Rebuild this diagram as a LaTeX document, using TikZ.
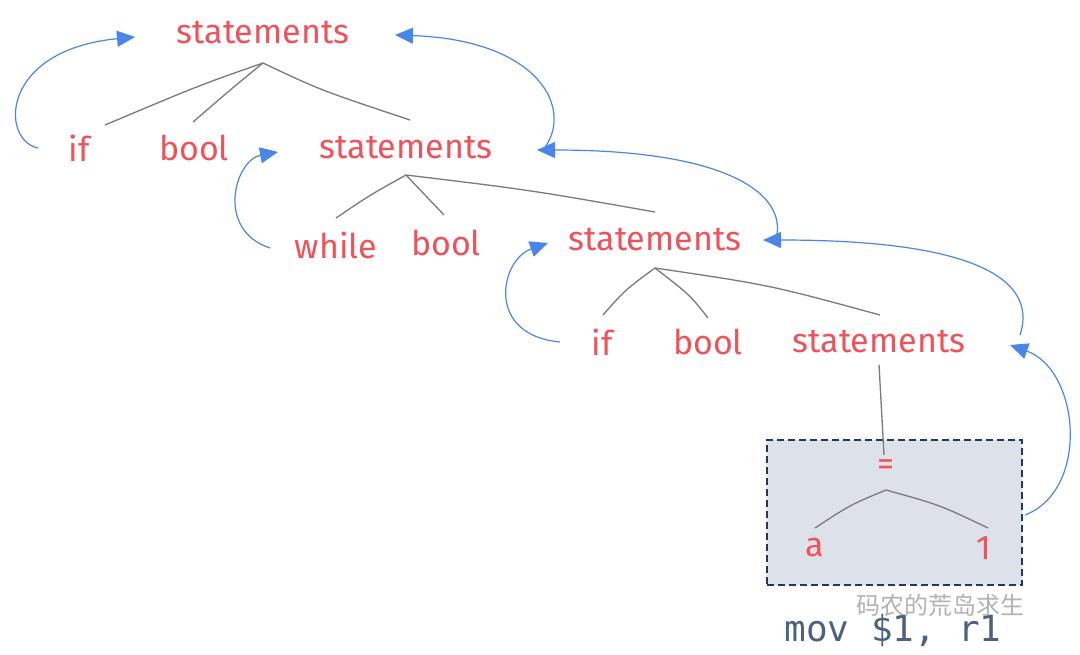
\documentclass[tikz,border=0pt]{standalone}
\usepackage{fontspec}
\setmainfont{Fira Sans}
\setmonofont{DejaVu Sans Mono}
\newfontfamily\cjk{Noto Sans CJK SC}
\usetikzlibrary{arrows.meta}
\definecolor{tred}{HTML}{F0525A}
\definecolor{tblue}{HTML}{4A86E8}
\definecolor{tgray}{HTML}{7A7A7A}
\definecolor{boxfill}{HTML}{DDE1EA}
\definecolor{boxline}{HTML}{1E3A5F}
\begin{document}
\begin{tikzpicture}[x=1pt,y=-1pt,
  lbl/.style={text=tred,font=\fontsize{34}{36}\selectfont,inner sep=1pt},
  br/.style={draw=tgray,line width=1.3pt},
  arr/.style={draw=tblue,line width=1.2pt,-{Triangle[length=18pt,width=16pt]}}]
\useasboundingbox (0,0) rectangle (1080,654);
\fill[white] (0,0) rectangle (1080,654);
\node[draw=boxline,fill=boxfill,dash pattern=on 7pt off 4pt,line width=1.5pt,minimum width=255pt,minimum height=145pt,inner sep=0pt] (box) at (894.5,512.5) {};
\node[lbl] (s1) at (263,33) {statements};
\node[lbl] (if1) at (79,148) {if};
\node[lbl] (b1) at (194,148) {bool};
\node[lbl] (s2) at (406,148) {statements};
\node[lbl] (wh) at (336,245) {while};
\node[lbl] (b2) at (446,243) {bool};
\node[lbl] (s3) at (655,240) {statements};
\node[lbl] (if2) at (602,342) {if};
\node[lbl] (b3) at (708,342) {bool};
\node[lbl] (s4) at (879,342) {statements};
\node[lbl] (eq) at (886,468) {=};
\node[lbl] (a) at (815,548) {a};
\node[lbl] (one) at (984,548) {1};
\node[text=boxline!80,font=\ttfamily\fontsize{36}{36}\selectfont] (mov) at (893,630) {mov \$1, r1};
\node[text=gray!60,font=\cjk\fontsize{24}{24}\selectfont] (wm) at (940,605) {码农的荒岛求生};
\coordinate (e1) at (38,148);
\coordinate (e2) at (543,150);
\coordinate (e3) at (270,248);
\coordinate (e4) at (775,242);
\coordinate (e5) at (560,342);
\coordinate (e6) at (1020,335);
\coordinate (e7) at (1025,515);
\coordinate (p1) at (263,63);
\draw[br] (p1) .. controls (200,85) .. (105,125);
\draw[br] (p1) .. controls (230,90) .. (193,122);
\draw[br] (p1) .. controls (320,90) .. (410,120);
\coordinate (p2) at (406,175);
\draw[br] (p2) .. controls (370,195) .. (336,218);
\draw[br] (p2) .. controls (425,195) .. (444,215);
\draw[br] (p2) .. controls (530,190) .. (655,212);
\coordinate (p3) at (655,268);
\draw[br] (p3) .. controls (625,290) .. (603,315);
\draw[br] (p3) .. controls (690,295) .. (708,318);
\draw[br] (p3) .. controls (770,285) .. (880,315);
\draw[br] (s4.south) ++(0,10) -- (884,455);
\coordinate (p4) at (886,490);
\draw[br] (p4) .. controls (850,505) .. (815,528);
\draw[br] (p4) .. controls (940,505) .. (988,528);
\draw[arr] (e1) .. controls (0,140) and (0,50) .. (135,37);
\draw[arr] (e2) .. controls (575,110) and (540,40) .. (395,35);
\draw[arr] (e3) .. controls (215,230) and (235,160) .. (278,152);
\draw[arr] (e4) .. controls (790,200) and (740,150) .. (537,150);
\draw[arr] (e5) .. controls (485,335) and (500,260) .. (548,243);
\draw[arr] (e6) .. controls (1035,290) and (1000,240) .. (763,240);
\draw[arr] (e7) .. controls (1090,490) and (1080,370) .. (1010,345);
\end{tikzpicture}
\end{document}
